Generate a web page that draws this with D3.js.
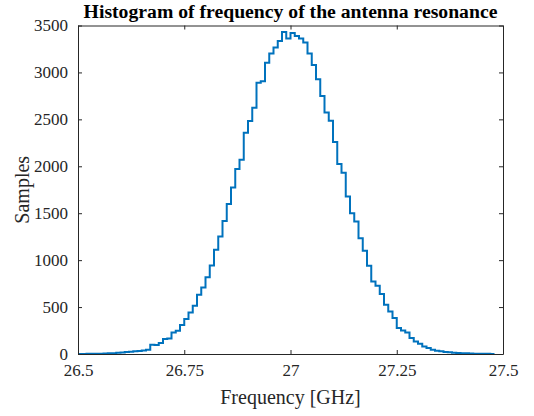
<!DOCTYPE html>
<html>
<head>
<meta charset="utf-8">
<script src="https://cdn.jsdelivr.net/npm/d3@7"></script>
<style>
  body { margin: 0; background: #fff; }
  svg { display: block; font-family: "Liberation Serif", "Times New Roman", serif; }
</style>
</head>
<body>
<svg id="chart" width="534" height="416"></svg>
<script>
// histogram bins: first edge and width in GHz, then counts per bin
const binStart = 26.5;
const binWidth = 0.01;
const counts = [
  1, 1, 2, 2, 3, 4, 5, 7, 9, 12,
  15, 20, 25, 30, 32, 38, 46, 99, 96, 117,
  160, 166, 230, 248, 308, 372, 443, 514, 631, 709,
  819, 943, 1110, 1251, 1418, 1599, 1773, 1971, 2070, 2357,
  2482, 2624, 2890, 2907, 3102, 3202, 3266, 3336, 3432, 3362,
  3420, 3389, 3362, 3319, 3202, 3078, 2926, 2748, 2574, 2485,
  2259, 2024, 1932, 1677, 1500, 1411, 1234, 1099, 939, 772,
  727, 638, 524, 453, 383, 277, 251, 230, 170, 134,
  110, 81, 64, 46, 35, 28, 22, 18, 14, 11,
  9, 7, 5, 4, 3, 2, 2, 1
];
const xTicks = [26.5, 26.75, 27, 27.25, 27.5];
const xTickLabels = ['26.5', '26.75', '27', '27.25', '27.5'];
const yTicks = [0, 500, 1000, 1500, 2000, 2500, 3000, 3500];

(function() {
  const svg = d3.select('#chart');
  const margin = {top: 25.5, right: 31, bottom: 62, left: 78};
  const width = 534, height = 416;
  const axisColor = '#262626';

  const x = d3.scaleLinear().domain([26.5, 27.5]).range([margin.left, width - margin.right]);
  const y = d3.scaleLinear().domain([0, 3500]).range([height - margin.bottom, margin.top]);

  const pts = counts.map((c, i) => [binStart + i * binWidth, c]);
  pts.push([binStart + counts.length * binWidth, counts[counts.length - 1]]);

  svg.append('clipPath').attr('id', 'plot-clip')
    .append('rect')
    .attr('x', x(26.5)).attr('y', y(3500))
    .attr('width', x(27.5) - x(26.5)).attr('height', y(0) - y(3500));

  const line = d3.line()
    .x(d => x(d[0]))
    .y(d => y(d[1]))
    .curve(d3.curveStepAfter);

  svg.append('path')
    .attr('clip-path', 'url(#plot-clip)')
    .attr('d', line(pts))
    .attr('fill', 'none')
    .attr('stroke', '#0072BD')
    .attr('stroke-width', 2)
    .attr('stroke-linejoin', 'miter');

  // axes (MATLAB box style, ticks inward on all four sides)
  const tickLen = 4;
  const xAxis = d3.axisBottom(x).tickValues(xTicks).tickFormat((d, i) => xTickLabels[i])
    .tickSizeInner(-tickLen).tickSizeOuter(0).tickPadding(10);
  const yAxis = d3.axisLeft(y).tickValues(yTicks).tickFormat(d3.format('d'))
    .tickSizeInner(-tickLen).tickSizeOuter(0).tickPadding(10);
  const xTop = d3.axisTop(x).tickValues(xTicks).tickFormat('')
    .tickSizeInner(-tickLen).tickSizeOuter(0);
  const yRight = d3.axisRight(y).tickValues(yTicks).tickFormat('')
    .tickSizeInner(-tickLen).tickSizeOuter(0);

  const gx = svg.append('g').attr('transform', 'translate(0,' + y(0) + ')').call(xAxis);
  const gy = svg.append('g').attr('transform', 'translate(' + x(26.5) + ',0)').call(yAxis);
  const gt = svg.append('g').attr('transform', 'translate(0,' + y(3500) + ')').call(xTop);
  const gr = svg.append('g').attr('transform', 'translate(' + x(27.5) + ',0)').call(yRight);

  [gx, gy, gt, gr].forEach(g => {
    g.select('.domain').attr('stroke', axisColor).attr('stroke-width', 1);
    g.selectAll('.tick line').attr('stroke', axisColor).attr('stroke-width', 1);
    g.selectAll('.tick text')
      .attr('fill', axisColor)
      .style('font-family', '"Liberation Serif", "Times New Roman", serif')
      .style('font-size', '17px');
  });

  svg.append('text')
    .attr('x', (x(26.5) + x(27.5)) / 2)
    .attr('y', 18)
    .attr('text-anchor', 'middle')
    .attr('font-weight', 'bold')
    .attr('font-size', '19.7px')
    .attr('fill', '#000')
    .text('Histogram of frequency of the antenna resonance');

  svg.append('text')
    .attr('x', (x(26.5) + x(27.5)) / 2)
    .attr('y', 404)
    .attr('text-anchor', 'middle')
    .attr('font-size', '20px')
    .attr('fill', axisColor)
    .text('Frequency [GHz]');

  svg.append('text')
    .attr('transform', 'translate(29,' + ((y(0) + y(3500)) / 2) + ') rotate(-90)')
    .attr('text-anchor', 'middle')
    .attr('font-size', '20px')
    .attr('fill', axisColor)
    .text('Samples');
})();
</script>
</body>
</html>
